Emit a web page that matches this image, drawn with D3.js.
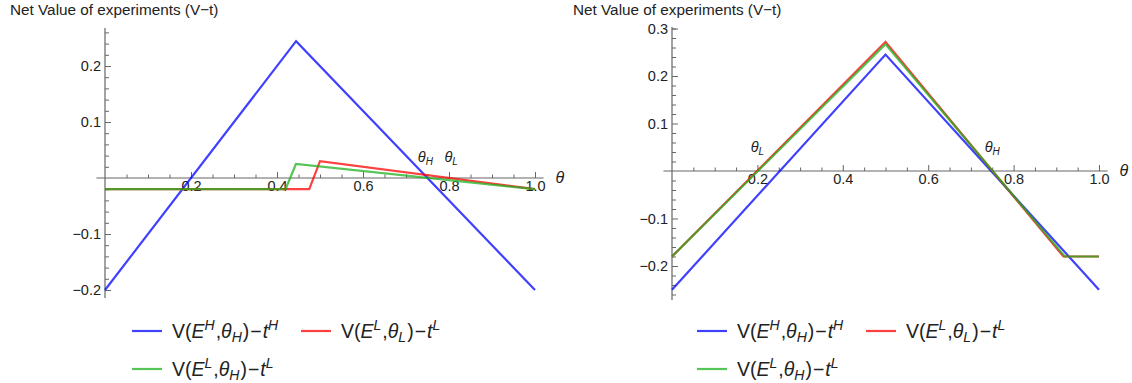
<!DOCTYPE html>
<html>
<head>
<meta charset="utf-8">
<script src="https://cdn.jsdelivr.net/npm/d3@7"></script>
<style>
  html, body { margin: 0; padding: 0; background: #fff; }
  svg { display: block; font-family: "Liberation Sans", Arial, sans-serif; }
</style>
</head>
<body>
<svg id="chart" width="1132" height="383"></svg>
<script>
// Net value (V - t) of each experiment as a function of θ, two parameter settings.
const xMajorTicks = [0.2, 0.4, 0.6, 0.8, 1.0];
const xMinorTicks = [0.05, 0.1, 0.15, 0.25, 0.3, 0.35, 0.45, 0.5, 0.55, 0.65, 0.7, 0.75, 0.85, 0.9, 0.95];

const leftYTicks = [-0.2, -0.1, 0.1, 0.2];
const rightYTicks = [-0.2, -0.1, 0.1, 0.2, 0.3];

// Left panel series: [θ, V - t]
const leftHigh = [[0, -0.2], [0.4444, 0.2444], [1.0, -0.2]];
const leftLowL = [[0, -0.02], [0.475, -0.02], [0.5, 0.03], [1.0, -0.02]];
const leftLowH = [[0, -0.02], [0.42, -0.02], [0.444, 0.025], [1.0, -0.02]];

// Right panel series
const rightHigh = [[0, -0.25], [0.5, 0.245], [1.0, -0.25]];
const rightLowL = [[0, -0.18], [0.5, 0.272], [0.9167, -0.18], [1.0, -0.18]];
const rightLowH = [[0, -0.18], [0.5, 0.267], [0.92, -0.18], [1.0, -0.18]];

// Threshold markers on the θ axis
const leftMarks = [{ x: 0.745, sub: "H" }, { x: 0.805, sub: "L" }];
const rightMarks = [{ x: 0.2, sub: "L" }, { x: 0.75, sub: "H" }];

const seriesColors = ["#0000ff", "#ff0000", "#1fb01f"];

const svg = d3.select("#chart");

function drawPanel(cfg) {
  const g = svg.append("g");
  const x = d3.scaleLinear().domain([0, 1]).range(cfg.xRange);
  const y = d3.scaleLinear().domain([-0.2, 0.2]).range(cfg.yRange);

  // title
  g.append("text")
    .attr("x", cfg.titleX).attr("y", 15)
    .attr("font-size", 15.3).attr("fill", "#222")
    .text("Net Value of experiments (V\u2212t)");

  const fmt = d3.format(".1f");
  const styleLabels = s => s.selectAll("text")
    .attr("font-size", 14.5).attr("fill", "#222")
    .attr("font-family", "Liberation Sans, Arial, sans-serif");

  // minor ticks (y)
  g.append("g")
    .attr("transform", `translate(${x(0)},0)`)
    .call(d3.axisLeft(y).tickValues(cfg.yMinor).tickSize(-4).tickFormat(""))
    .call(s => s.select(".domain").remove())
    .call(s => s.selectAll("line").attr("stroke", "#666"));
  // major ticks (y)
  g.append("g")
    .attr("transform", `translate(${x(0)},0)`)
    .call(d3.axisLeft(y).tickValues(cfg.yTicks).tickSize(-6).tickPadding(4).tickFormat(fmt))
    .call(s => s.select(".domain").remove())
    .call(s => s.selectAll("line").attr("stroke", "#666"))
    .call(styleLabels);

  // minor ticks (x)
  g.append("g")
    .attr("transform", `translate(0,${y(0)})`)
    .call(d3.axisBottom(x).tickValues(xMinorTicks).tickSize(-3.5).tickFormat(""))
    .call(s => s.select(".domain").remove())
    .call(s => s.selectAll("line").attr("stroke", "#666"));
  // major ticks (x)
  g.append("g")
    .attr("transform", `translate(0,${y(0)})`)
    .call(d3.axisBottom(x).tickValues(xMajorTicks).tickSize(-6).tickPadding(3).tickFormat(fmt))
    .call(s => s.select(".domain").remove())
    .call(s => s.selectAll("line").attr("stroke", "#666"))
    .call(styleLabels);

  // axis lines
  g.append("line")
    .attr("x1", x(0)).attr("x2", x(0))
    .attr("y1", cfg.yAxisTop).attr("y2", cfg.yAxisBottom)
    .attr("stroke", "#666").attr("stroke-width", 1.2);
  g.append("line")
    .attr("x1", x(-0.02)).attr("x2", x(1.02))
    .attr("y1", y(0)).attr("y2", y(0))
    .attr("stroke", "#666").attr("stroke-width", 1.2);

  // θ axis label
  g.append("text")
    .attr("x", x(1.02) + 12).attr("y", y(0) + 5)
    .attr("font-size", 16).attr("font-style", "italic").attr("fill", "#222")
    .text("\u03b8");

  // curves
  const line = d3.line().x(d => x(d[0])).y(d => y(d[1]));
  cfg.series.forEach((s, i) => {
    g.append("path")
      .datum(s)
      .attr("d", line)
      .attr("fill", "none")
      .attr("stroke", seriesColors[i])
      .attr("stroke-opacity", 0.75)
      .attr("stroke-width", 2.2)
      .attr("stroke-linejoin", "miter");
  });

  // threshold markers
  cfg.marks.forEach(m => {
    const t = g.append("text")
      .attr("x", x(m.x)).attr("y", cfg.markY)
      .attr("text-anchor", "middle")
      .attr("font-size", 14.5).attr("font-style", "italic").attr("fill", "#222");
    t.append("tspan").text("\u03b8");
    t.append("tspan").attr("dy", 3).attr("font-size", 10).text(m.sub);
  });

  // legend
  const legendItems = [
    { c: seriesColors[0], sup1: "H", sub: "H", sup2: "H", col: 0, row: 0 },
    { c: seriesColors[1], sup1: "L", sub: "L", sup2: "L", col: 1, row: 0 },
    { c: seriesColors[2], sup1: "L", sub: "H", sup2: "L", col: 0, row: 1 }
  ];
  legendItems.forEach(it => {
    const lx = cfg.legendX + it.col * cfg.legendColW;
    const ly = 331 + it.row * 38;
    g.append("line")
      .attr("x1", lx).attr("x2", lx + 30)
      .attr("y1", ly).attr("y2", ly)
      .attr("stroke", it.c).attr("stroke-opacity", 0.75).attr("stroke-width", 2.2);
    const t = g.append("text")
      .attr("x", lx + 40).attr("y", ly + 7)
      .attr("font-size", 19.5).attr("fill", "#222");
    t.append("tspan").text("V(");
    t.append("tspan").attr("font-style", "italic").text("E");
    t.append("tspan").attr("font-size", 14).attr("font-style", "italic").attr("dy", -8).text(it.sup1);
    t.append("tspan").attr("dy", 8).attr("dx", 1).text(",");
    t.append("tspan").attr("font-style", "italic").text("\u03b8");
    t.append("tspan").attr("font-size", 14).attr("font-style", "italic").attr("dy", 4).text(it.sub);
    t.append("tspan").attr("dy", -4).attr("dx", 1).text(")");
    t.append("tspan").attr("dx", 1).text("\u2212");
    t.append("tspan").attr("dx", 1).attr("font-style", "italic").text("t");
    t.append("tspan").attr("font-size", 14).attr("font-style", "italic").attr("dy", -8).text(it.sup2);
  });
}

drawPanel({
  xRange: [105, 535],
  yRange: [290, 66],
  titleX: 10,
  yTicks: leftYTicks,
  yMinor: d3.range(-0.18, 0.27, 0.02).map(v => Math.round(v * 100) / 100).filter(v => Math.abs(v % 0.1) > 0.001 && Math.abs(v) > 0.001),
  yAxisTop: 28,
  yAxisBottom: 298,
  series: [leftHigh, leftLowL, leftLowH],
  marks: leftMarks,
  markY: 162,
  legendX: 132,
  legendColW: 169
});

drawPanel({
  xRange: [672, 1099],
  yRange: [266, 76],
  titleX: 573,
  yTicks: rightYTicks,
  yMinor: d3.range(-0.26, 0.3, 0.02).map(v => Math.round(v * 100) / 100).filter(v => Math.abs(v % 0.1) > 0.001 && Math.abs(v) > 0.001),
  yAxisTop: 27,
  yAxisBottom: 300,
  series: [rightHigh, rightLowL, rightLowH],
  marks: rightMarks,
  markY: 152,
  legendX: 697,
  legendColW: 169
});
</script>
</body>
</html>
